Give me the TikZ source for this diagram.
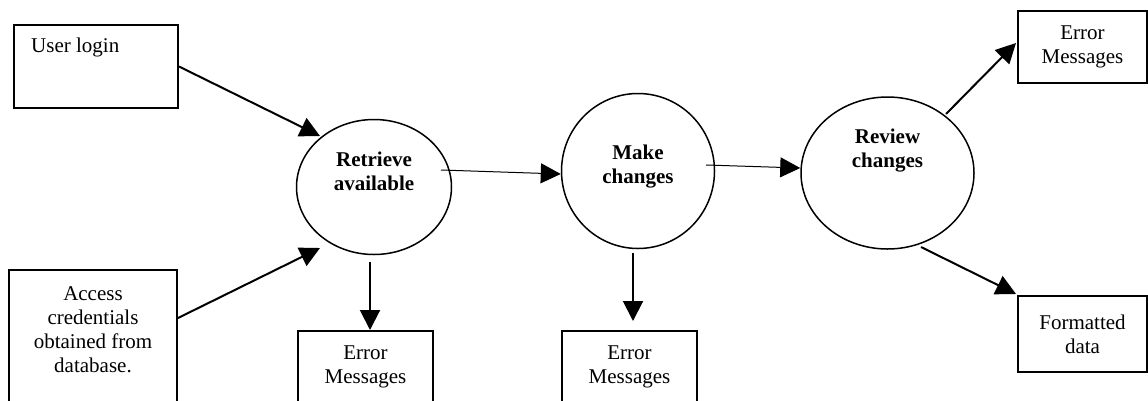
\documentclass[tikz,border=0pt]{standalone}
\usepackage{fontspec}
\setmainfont{Liberation Serif}
\usetikzlibrary{arrows.meta, shapes.geometric, calc}

\begin{document}
\begin{tikzpicture}[x=1pt, y=-1pt,
  font=\fontsize{21}{24}\selectfont,
  box/.style={draw, line width=2, inner sep=0, align=center},
  proc/.style={draw, ellipse, line width=1.5, inner sep=0},
  ptext/.style={font=\fontsize{21}{24}\selectfont\bfseries, align=center},
  flow/.style={-{Triangle[length=20pt,width=20pt]}, line width=2},
  thin flow/.style={flow, line width=1}
]
\clip (0,0) rectangle (1148,400);

\node[box, minimum width=164, minimum height=83,
  label={[anchor=base west, inner sep=0, xshift=18, yshift=-28]north west:User login}] (login) at (96,66.5) {};
\node[box, minimum width=168, minimum height=140,
  label={[align=center, yshift=10]center:Access\\credentials\\obtained from\\database.}] (acc) at (93,340) {};

\node[proc, minimum width=155, minimum height=135,
  label={[ptext, yshift=16]center:Retrieve\\available}] (retr) at (374,187) {};
\node[box, minimum width=135, minimum height=72] (err1) at (365.5,367) {Error\\Messages};

\node[proc, minimum width=153, minimum height=155,
  label={[ptext, yshift=4]center:Make\\changes}] (make) at (638,171) {};
\node[box, minimum width=135, minimum height=72] (err2) at (629.5,367) {Error\\Messages};

\node[proc, minimum width=173, minimum height=152,
  label={[ptext, yshift=22]center:Review\\changes}] (rev) at (887.5,173) {};
\node[box, minimum width=129, minimum height=72] (err3) at (1082.5,47) {Error\\Messages};
\node[box, minimum width=129, minimum height=76] (fmt) at (1082.5,334) {Formatted\\data};

\draw[flow] (login.east) -- ($(retr.center)+(-54,-51)$);
\draw[flow] ($(acc.east)+(0,-22)$) -- ($(retr.center)+(-54,61)$);
\draw[flow] ($(retr.south)+(-4,7)$) -- ($(err1.north)+(4.5,0)$);
\draw[thin flow] ($(retr.center)+(67,-17)$) -- ($(make.west)+(0,3)$);
\draw[flow] ($(make.south)+(-5,4)$) -- ($(err2.north)+(3.5,-9)$);
\draw[thin flow] ($(make.center)+(68,-6)$) -- ($(rev.west)+(0,-5)$);
\draw[flow] ($(rev.center)+(58.5,-59)$) -- ($(err3.west)+(-1,-4)$);
\draw[flow] ($(rev.center)+(33.5,74)$) -- ($(fmt.north west)+(-1,-1)$);
\end{tikzpicture}
\end{document}
